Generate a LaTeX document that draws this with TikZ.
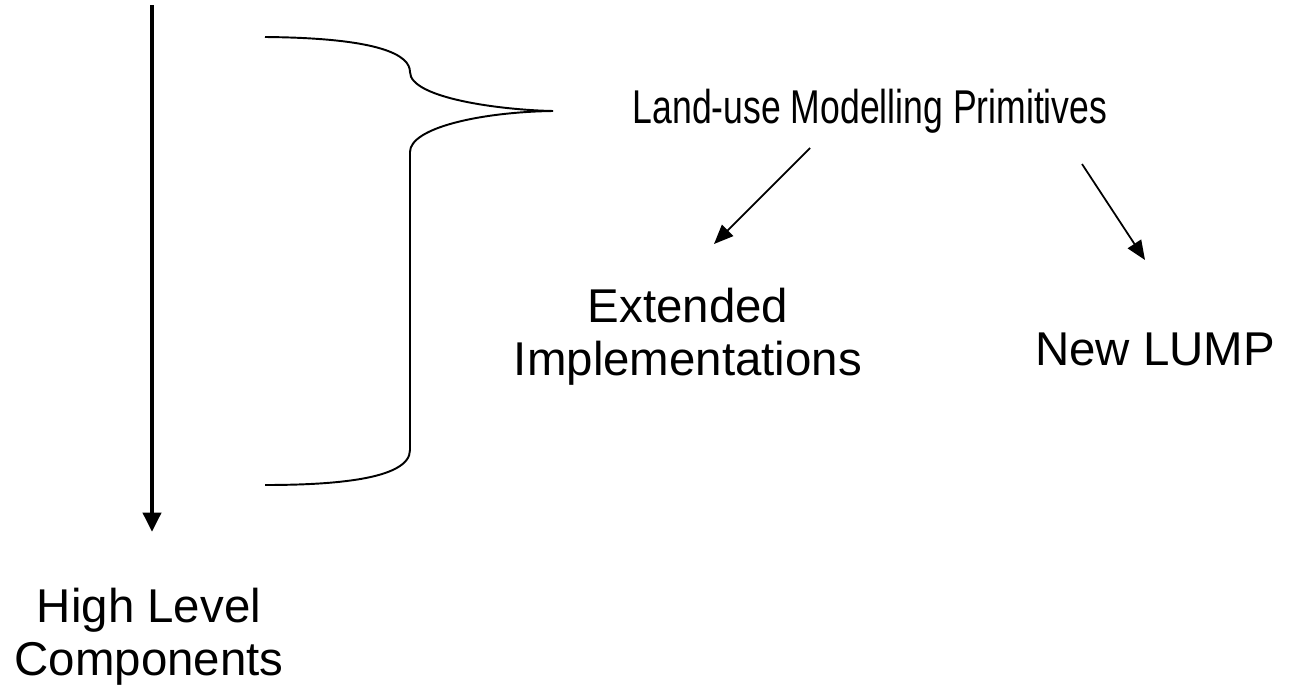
\documentclass[tikz,border=0pt]{standalone}
\usepackage{fontspec}
\setmainfont{Liberation Sans}
\usetikzlibrary{arrows.meta}

\begin{document}
\begin{tikzpicture}[x=0.02cm, y=-0.02cm, font=\fontsize{27}{30}\selectfont]
\useasboundingbox (0,0) rectangle (1303,690);
\coordinate (top) at (152,5);
\coordinate (bend) at (410,72);
\coordinate (tip) at (553,111);
\coordinate (from1) at (810,148);
\coordinate (to1) at (714,244);
\coordinate (from2) at (1082,164);
\coordinate (to2) at (1145,260);
\node[anchor=base] (lmp) at (870,123) {\scalebox{0.75}[1]{Land-use Modelling Primitives}};
\node[align=center, anchor=base] (ext) at (688,375) {Extended\\Implementations};
\node[anchor=base] (lump) at (1155,365) {New LUMP};
\node[align=center, anchor=base] (high) at (149,675) {High Level\\Components};
\draw[line width=2.8pt, -{Triangle[length=11pt, width=10pt]}] (top)--(152,532);
\draw[line width=1.1pt] (265,37) .. controls (380,38) and (410,55) .. (bend)
  .. controls (410,98) and (500,110) .. (tip);
\draw[line width=1.1pt] (tip) .. controls (480,112) and (410,128) .. (410,152)
  -- (410,450) .. controls (410,480) and (330,485) .. (265,485);
\draw[line width=1pt, -{Triangle[length=11pt, width=9pt]}] (from1)--(to1);
\draw[line width=1pt, -{Triangle[length=11pt, width=9pt]}] (from2)--(to2);
\end{tikzpicture}
\end{document}
